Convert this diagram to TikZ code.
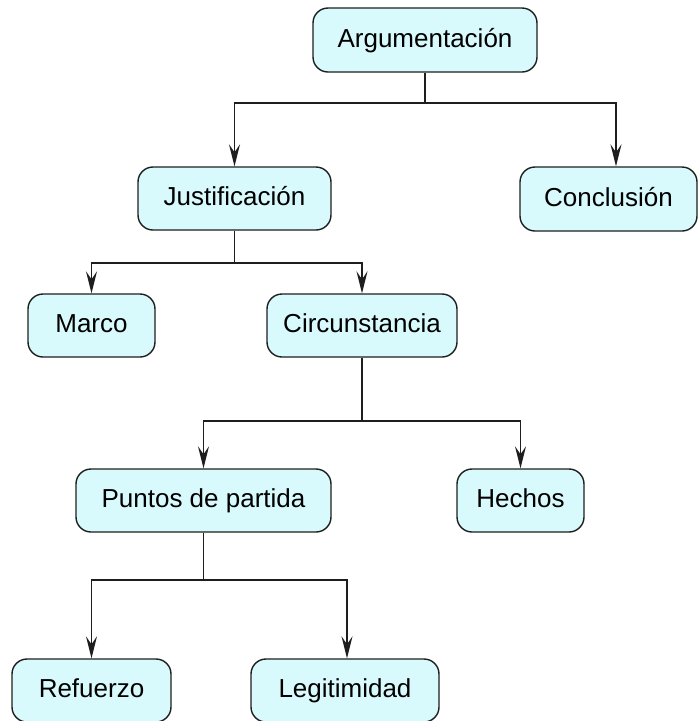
\documentclass[tikz,border=0pt]{standalone}
\usepackage{fontspec}
\setmainfont{Liberation Sans}
\usetikzlibrary{arrows.meta}
\definecolor{boxfill}{RGB}{217,250,252}
\definecolor{edge}{RGB}{30,30,30}
\begin{document}
\begin{tikzpicture}[x=1pt,y=-1pt,
  box/.style={draw=edge, line width=1.4pt, fill=boxfill, rounded corners=15pt,
    inner sep=0pt, minimum height=63pt, text height=19pt, text depth=5pt,
    font=\fontsize{26}{30}\selectfont},
  conn/.style={line width=1.4pt, draw=edge},
  arr/.style={conn, -{Stealth[length=22pt,width=11pt,inset=8pt]}}]
\useasboundingbox (0,0) rectangle (699,721);

\node[box, minimum width=224pt, minimum height=64pt] (arg) at (425,40) {Argumentación};
\node[box, minimum width=193pt] (just) at (234.5,198.5) {Justificación};
\node[box, minimum width=177pt, minimum height=64pt] (conc) at (608.5,199) {Conclusión};
\node[box, minimum width=127pt] (marco) at (91.5,325.5) {Marco};
\node[box, minimum width=190pt] (circ) at (362,325.5) {Circunstancia};
\node[box, minimum width=255pt] (punt) at (203.5,500.5) {Puntos de partida};
\node[box, minimum width=127pt] (hech) at (520.5,500.5) {Hechos};
\node[box, minimum width=159pt] (refu) at (91.5,690.5) {Refuerzo};
\node[box, minimum width=188pt] (legi) at (345,690.5) {Legitimidad};

\coordinate (j1) at (425,103);
\coordinate (j2) at (234.5,263);
\coordinate (j3) at (362,421);
\coordinate (j4) at (203.5,580);

\draw[conn] (arg.south) -- (j1);
\draw[arr] (j1) -| (just.north);
\draw[arr] (j1) -| ([xshift=7.5pt]conc.north);

\draw[conn] (just.south) -- (j2);
\draw[arr] (j2) -| (marco.north);
\draw[arr] (j2) -| (circ.north);

\draw[conn] (circ.south) -- (j3);
\draw[arr] (j3) -| (punt.north);
\draw[arr] (j3) -| (hech.north);

\draw[conn] (punt.south) -- (j4);
\draw[arr] (j4) -| (refu.north);
\draw[arr] (j4) -| ([xshift=2pt]legi.north);
\end{tikzpicture}
\end{document}
